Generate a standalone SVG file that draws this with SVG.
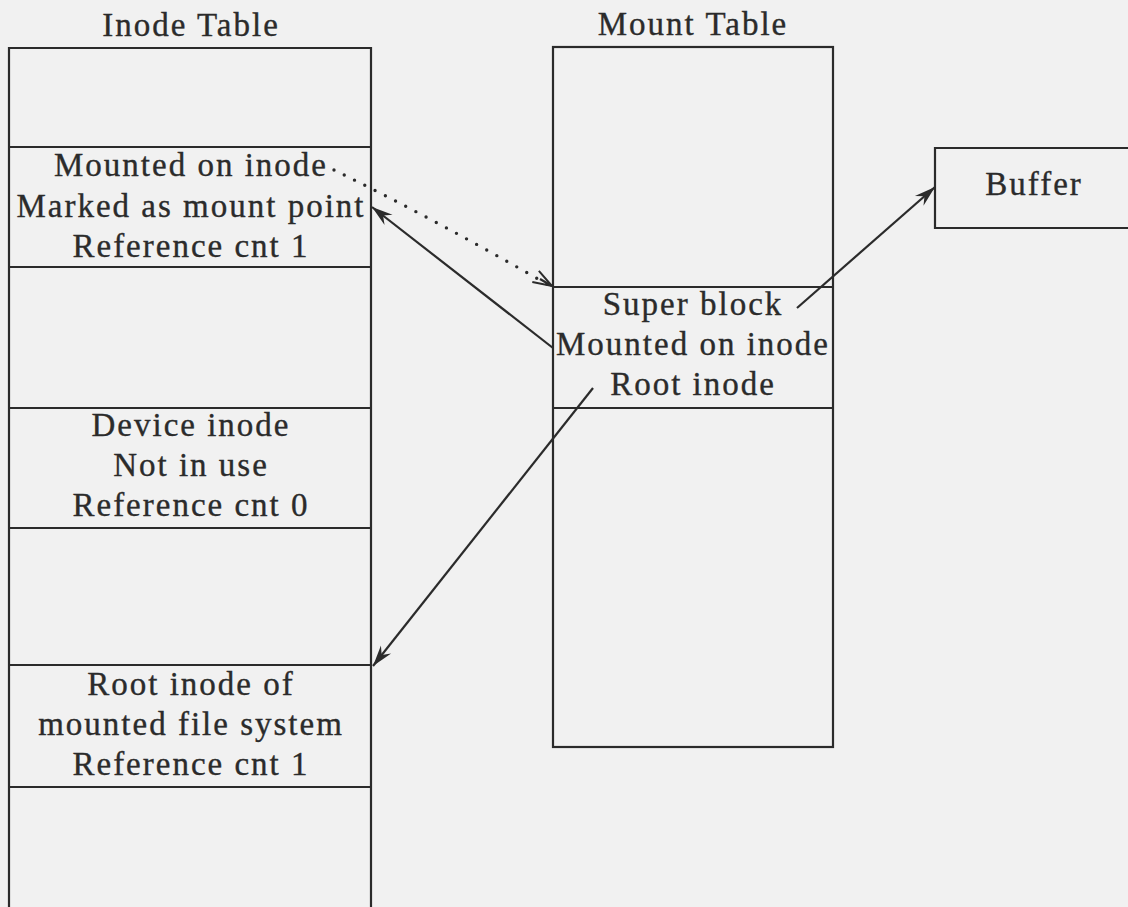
<svg xmlns="http://www.w3.org/2000/svg" width="1128" height="907" viewBox="0 0 1128 907">
<style>
.bg{fill:#f1f1f1}
.box{fill:none;stroke:#2b2b2b;stroke-width:2.2}
.t{font-family:"Liberation Serif","Times New Roman",serif;font-size:33px;letter-spacing:2px;fill:#2b2b2b;stroke:#2b2b2b;stroke-width:0.35;text-anchor:middle}
.c{fill:none;stroke:#2b2b2b;stroke-width:2.2}
.dot{fill:none;stroke:#2b2b2b;stroke-width:3.4;stroke-linecap:round;stroke-dasharray:0 11.5}
</style>
<defs>
<marker id="ah" viewBox="0 0 24 14" refX="23" refY="7" markerWidth="24" markerHeight="14" markerUnits="userSpaceOnUse" orient="auto">
<path d="M23,7 L2,0.5 L9,7 L2,13.5 Z" fill="#2b2b2b"/>
</marker>
<marker id="ao" viewBox="0 0 24 16" refX="22" refY="8" markerWidth="24" markerHeight="16" markerUnits="userSpaceOnUse" orient="auto">
<path d="M3,1.5 L22,8 L3,14.5" fill="none" stroke="#2b2b2b" stroke-width="2"/>
</marker>
</defs>
<rect class="bg" x="0" y="0" width="1128" height="907"/>

<g id="inode-table">
<text class="t" x="191" y="36">Inode Table</text>
<path class="box" d="M9,907 V48 H371 V907"/>
<line class="box" x1="9" y1="147" x2="371" y2="147"/>
<line class="box" x1="9" y1="267" x2="371" y2="267"/>
<line class="box" x1="9" y1="408" x2="371" y2="408"/>
<line class="box" x1="9" y1="528" x2="371" y2="528"/>
<line class="box" x1="9" y1="665" x2="371" y2="665"/>
<line class="box" x1="9" y1="787" x2="371" y2="787"/>
</g>

<g id="inode-mounted-on">
<text class="t" x="191" y="176">Mounted on inode</text>
<text class="t" x="191" y="217">Marked as mount point</text>
<text class="t" x="191" y="257">Reference cnt 1</text>
</g>

<g id="inode-device">
<text class="t" x="191" y="436">Device inode</text>
<text class="t" x="191" y="476">Not in use</text>
<text class="t" x="191" y="516">Reference cnt 0</text>
</g>

<g id="inode-root-mounted">
<text class="t" x="191" y="695">Root inode of</text>
<text class="t" x="191" y="735">mounted file system</text>
<text class="t" x="191" y="775">Reference cnt 1</text>
</g>

<g id="mount-table">
<text class="t" x="693" y="35">Mount Table</text>
<rect class="box" x="553" y="47" width="280" height="700"/>
<line class="box" x1="553" y1="287" x2="833" y2="287"/>
<line class="box" x1="553" y1="408" x2="833" y2="408"/>
</g>

<g id="mount-entry">
<text class="t" x="693" y="315">Super block</text>
<text class="t" x="693" y="355">Mounted on inode</text>
<text class="t" x="693" y="395">Root inode</text>
</g>

<g id="buffer">
<path class="box" d="M1130,148 H935 V228 H1130"/>
<text class="t" x="1034" y="195">Buffer</text>
</g>

<g id="connectors">
<path class="dot" d="M334,170 Q440,222 550,286"/>
<path class="c" d="M540,279 L552,286" marker-end="url(#ao)"/>
<line class="c" x1="553" y1="348" x2="372" y2="207" marker-end="url(#ah)"/>
<line class="c" x1="797" y1="308" x2="935" y2="187" marker-end="url(#ah)"/>
<line class="c" x1="593" y1="388" x2="373" y2="666" marker-end="url(#ah)"/>
</g>
</svg>
